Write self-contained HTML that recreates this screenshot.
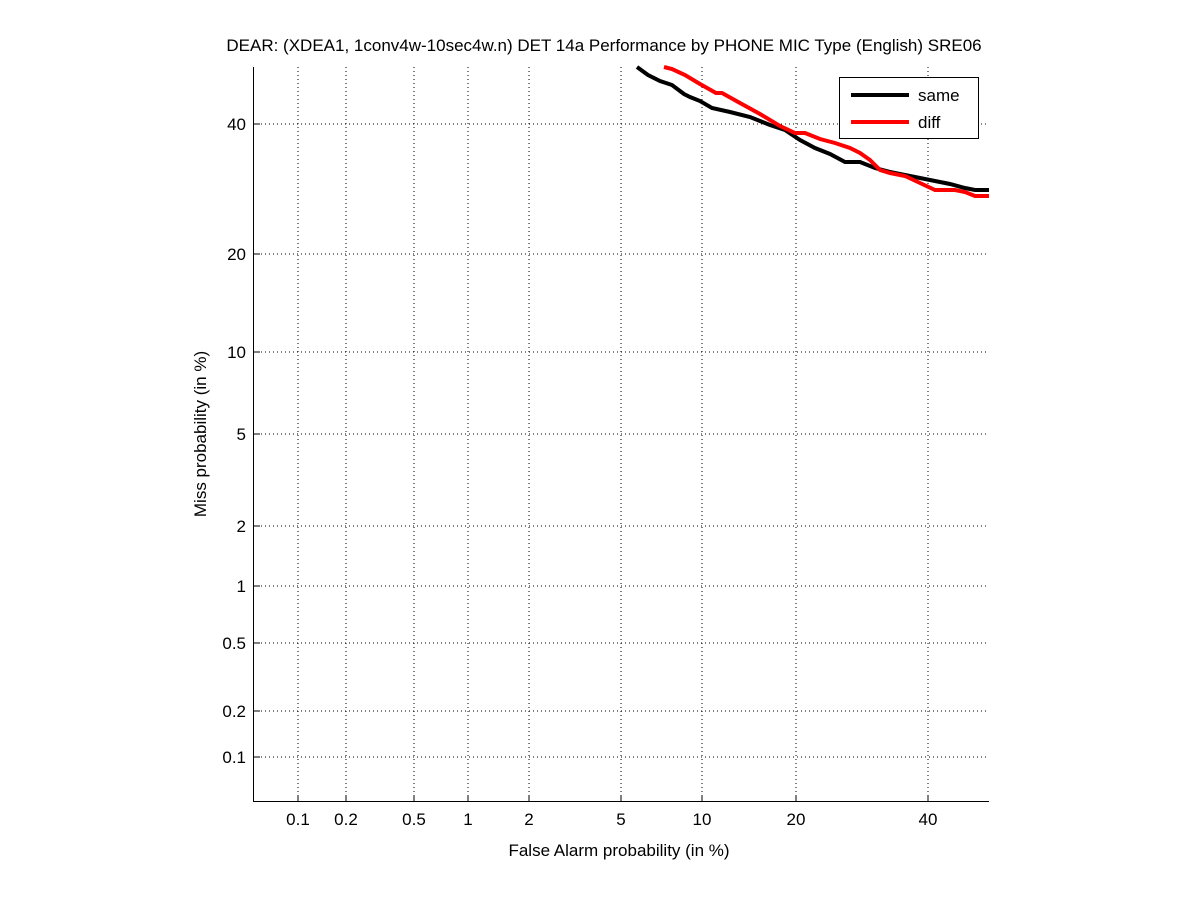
<!DOCTYPE html>
<html><head><style>body{margin:0;background:#fff}svg{display:block}</style></head><body>
<svg width="1200" height="901" xmlns="http://www.w3.org/2000/svg" font-family="Liberation Sans, sans-serif">
<rect width="1200" height="901" fill="#fff"/>
<g stroke="#000" stroke-width="1" stroke-dasharray="1,3">
<line x1="298" y1="67" x2="298" y2="802"/><line x1="346" y1="67" x2="346" y2="802"/><line x1="414" y1="67" x2="414" y2="802"/><line x1="468" y1="67" x2="468" y2="802"/><line x1="529" y1="67" x2="529" y2="802"/><line x1="621" y1="67" x2="621" y2="802"/><line x1="702" y1="67" x2="702" y2="802"/><line x1="796" y1="67" x2="796" y2="802"/><line x1="928" y1="67" x2="928" y2="802"/>
<line x1="253" y1="124" x2="989" y2="124"/><line x1="253" y1="254" x2="989" y2="254"/><line x1="253" y1="352" x2="989" y2="352"/><line x1="253" y1="434" x2="989" y2="434"/><line x1="253" y1="526" x2="989" y2="526"/><line x1="253" y1="586" x2="989" y2="586"/><line x1="253" y1="643" x2="989" y2="643"/><line x1="253" y1="711" x2="989" y2="711"/><line x1="253" y1="757" x2="989" y2="757"/>
</g>
<g stroke="#000"><line x1="253.5" y1="67" x2="253.5" y2="802"/><line x1="253" y1="801.5" x2="989" y2="801.5"/>
<path d="M298 802v-7M346 802v-7M414 802v-7M468 802v-7M529 802v-7M621 802v-7M702 802v-7M796 802v-7M928 802v-7M253 124h7M253 254h7M253 352h7M253 434h7M253 526h7M253 586h7M253 643h7M253 711h7M253 757h7"/></g>
<polyline fill="none" stroke="#000" stroke-width="4" points="637,67 648,75 660,81 672,85 684,94 690,97 700,101 712,108 730,112 750,117 770,125 785,130 800,140 815,148 830,154 845,162 860,162 875,168 890,172 905,175 920,178 935,181 950,184 965,188 975,190 989,190"/>
<polyline fill="none" stroke="#f00" stroke-width="4" points="664,67 672,69 685,75 700,84 716,93 722,93 740,103 760,114 780,126 795,133 805,133 820,139 835,143 850,148 860,153 870,160 880,170 890,173 905,176 920,183 935,190 955,190 965,192 975,196 989,196"/>
<rect x="839.5" y="77.5" width="139" height="61" fill="#fff" stroke="#000"/>
<line x1="851" y1="95" x2="909" y2="95" stroke="#000" stroke-width="4"/>
<line x1="851" y1="122" x2="909" y2="122" stroke="#f00" stroke-width="4"/>
<g font-size="17" fill="#000">
<text x="918" y="101">same</text><text x="918" y="128">diff</text>
<g text-anchor="middle"><text x="298" y="825">0.1</text><text x="346" y="825">0.2</text><text x="414" y="825">0.5</text><text x="468" y="825">1</text><text x="529" y="825">2</text><text x="621" y="825">5</text><text x="702" y="825">10</text><text x="796" y="825">20</text><text x="928" y="825">40</text>
<text x="619" y="856">False Alarm probability (in %)</text>
<text x="604" y="51">DEAR: (XDEA1, 1conv4w-10sec4w.n) DET 14a Performance by PHONE MIC Type (English) SRE06</text></g>
<g text-anchor="end"><text x="246" y="130">40</text><text x="246" y="260">20</text><text x="246" y="358">10</text><text x="246" y="440">5</text><text x="246" y="532">2</text><text x="246" y="592">1</text><text x="246" y="649">0.5</text><text x="246" y="717">0.2</text><text x="246" y="763">0.1</text></g>
<text transform="translate(206,434) rotate(-90)" text-anchor="middle">Miss probability (in %)</text>
</g>
</svg>
</body></html>
